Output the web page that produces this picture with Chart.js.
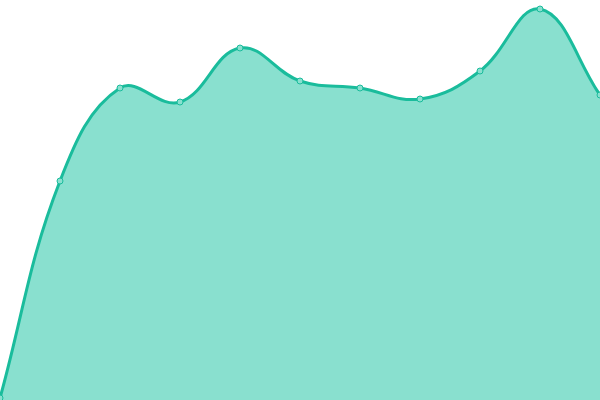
<!DOCTYPE html>
<html><head><meta charset="utf-8">
<script src="https://cdn.jsdelivr.net/npm/chart.js@4"></script>
<style>html,body{margin:0;padding:0;background:#fff;}#c{display:block;}</style>
</head><body>
<canvas id="c" width="600" height="400"></canvas>
<script>
const labels = ["1","2","3","4","5","6","7","8","9","10","11"];
const values = [2, 219, 312, 298, 352, 319, 312, 301, 329, 391, 305];
const yMin = 0, yMax = 400;

new Chart(document.getElementById('c'), {
  type: 'line',
  data: {
    labels: labels,
    datasets: [{
      data: values,
      fill: 'origin',
      backgroundColor: '#89e0cf',
      borderColor: '#1abc9c',
      borderWidth: 3,
      tension: 0.4,
      pointRadius: 3,
      pointBackgroundColor: '#89e0cf',
      pointBorderColor: '#1abc9c',
      pointBorderWidth: 1
    }]
  },
  options: {
    responsive: false,
    animation: false,
    layout: { padding: 0, autoPadding: false },
    plugins: { legend: { display: false }, tooltip: { enabled: false } },
    scales: {
      x: { display: false, offset: false },
      y: { display: false, min: yMin, max: yMax }
    }
  }
});
</script>
</body></html>
